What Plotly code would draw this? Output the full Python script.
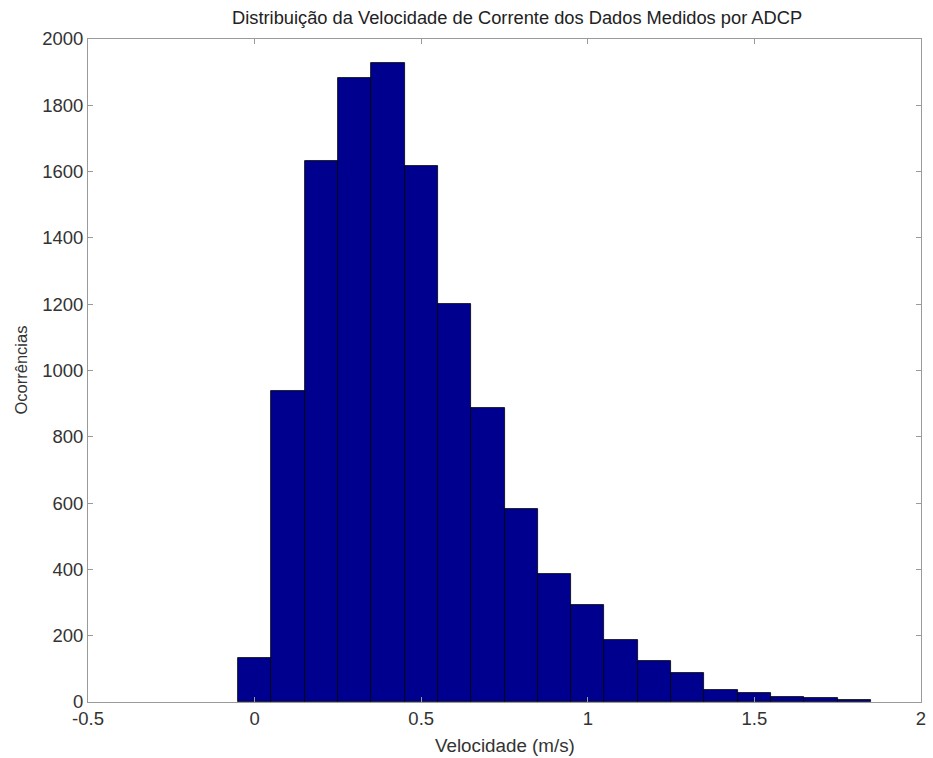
import plotly.graph_objects as go

bin_centers = [0.0, 0.1, 0.2, 0.3, 0.4, 0.5, 0.6, 0.7, 0.8, 0.9, 1.0, 1.1, 1.2, 1.3, 1.4, 1.5, 1.6, 1.7, 1.8]
counts = [133, 938, 1632, 1882, 1928, 1617, 1201, 887, 582, 386, 293, 188, 124, 86, 37, 26, 14, 12, 6]
x_ticks = [-0.5, 0, 0.5, 1, 1.5, 2]
x_tick_labels = ["-0.5", "0", "0.5", "1", "1.5", "2"]
y_ticks = list(range(0, 2001, 200))

FONT = "Liberation Sans, Arial, sans-serif"
TXT = "#333333"

fig = go.Figure()
fig.add_trace(go.Bar(
    x=bin_centers, y=counts, width=0.1,
    marker=dict(color="#00008F", line=dict(color="#000000", width=0.8)),
))

axis_common = dict(
    showgrid=False, zeroline=False, showline=True, linecolor="#9a9a9a", linewidth=1,
    mirror="ticks", ticks="inside", ticklen=5, tickcolor="#9a9a9a", automargin=False,
    tickfont=dict(family=FONT, size=18.5, color=TXT),
)

fig.update_layout(
    width=933, height=758,
    margin=dict(l=88, r=12, t=39, b=56),
    paper_bgcolor="white", plot_bgcolor="white",
    showlegend=False,
    bargap=0,
    xaxis=dict(range=[-0.5, 2], tickvals=x_ticks, ticktext=x_tick_labels, **axis_common),
    yaxis=dict(range=[0, 2000], tickvals=y_ticks, **axis_common),
    annotations=[
        dict(text="Distribuição da Velocidade de Corrente dos Dados Medidos por ADCP",
             xref="paper", yref="paper", x=0.515, y=1, xanchor="center", yanchor="middle",
             yshift=22, showarrow=False, font=dict(family=FONT, size=18.3, color="#222222")),
        dict(text="Velocidade (m/s)",
             xref="paper", yref="paper", x=0.5, y=0, xanchor="center", yanchor="middle",
             yshift=-43, showarrow=False, font=dict(family=FONT, size=18.8, color=TXT)),
        dict(text="Ocorrências", textangle=-90,
             xref="paper", yref="paper", x=0, y=0.5, xanchor="center", yanchor="middle",
             xshift=-68, showarrow=False, font=dict(family=FONT, size=16.5, color=TXT)),
    ],
)

fig.write_html(
    "out.html",
    config={"displayModeBar": False},
    post_script="document.body.style.margin='0';document.body.style.overflow='hidden';",
)
